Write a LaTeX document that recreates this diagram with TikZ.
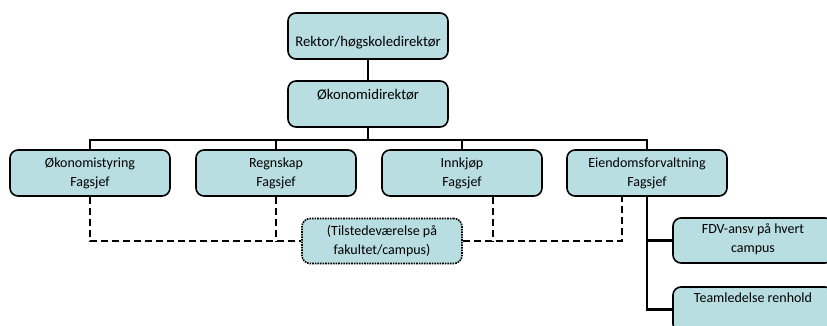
\documentclass[tikz,border=0pt]{standalone}
\usepackage{fontspec}
\setmainfont{Carlito}
\definecolor{boxfill}{RGB}{185,222,226}
\tikzset{
  orgbox/.style={draw=black, line width=1.6pt, fill=boxfill, rounded corners=8pt,
    minimum width=160pt, minimum height=46pt, inner sep=0pt},
  notebox/.style={orgbox, draw=black, densely dotted, minimum height=45pt},
  lbl/.style={font=\fontsize{14}{19}\selectfont, align=center, inner sep=0pt},
  toplbl/.style={lbl, font=\fontsize{14.7}{19}\selectfont},
  conn/.style={draw=black, line width=2.4pt},
  dashconn/.style={draw=black, line width=1.7pt, dash pattern=on 7pt off 4pt},
}
\begin{document}
\begin{tikzpicture}[x=1pt, y=-1pt]
\useasboundingbox (0,0) rectangle (827,325);
\clip (0,0) rectangle (827,325);

% top levels
\node[orgbox] (rektor) at (368,36) {};
\node[toplbl] (rektorT) at (368,43) {Rektor/høgskoledirektør};
\node[orgbox] (oko) at (368,104) {};
\node[toplbl] (okoT) at (368,95) {Økonomidirektør};

% department heads
\node[orgbox, lbl] (b1) at (90,173) {Økonomistyring\\Fagsjef};
\node[orgbox, lbl] (b2) at (276,173) {Regnskap\\Fagsjef};
\node[orgbox, lbl] (b3) at (462,173) {Innkjøp\\Fagsjef};
\node[orgbox, lbl] (b4) at (647,173) {Eiendomsforvaltning\\Fagsjef};

% presence note
\node[notebox, lbl] (mid) at (382,241) {(Tilstedeværelse på\\fakultet/campus)};

% property management units
\node[orgbox, minimum height=45pt] (fdv) at (753,240.5) {};
\node[lbl] (fdvT) at (753,239) {FDV-ansv på hvert\\campus};
\node[orgbox, minimum height=45pt] (team) at (753,309.5) {};
\node[lbl] (teamT) at (753,298) {Teamledelse renhold};

% solid reporting lines
\coordinate (bus) at (368,140);
\draw[conn] (rektor.south) -- (oko.north);
\draw[conn] (oko.south) -- (bus);
\draw[conn] (b1.north) |- (bus) -| (b4.north);
\draw[conn] (b2.north) -- (b2.north |- bus);
\draw[conn] (b3.north) -- (b3.north |- bus);
\draw[conn] (b4.south) |- (team.west);
\draw[conn] (b4.south |- fdv.west) -- (fdv.west);

% dashed links to the presence note
\draw[dashconn] (b1.south) |- (mid.west);
\draw[dashconn] (b2.south) -- (b2.south |- mid.west);
\draw[dashconn] (mid.east) -| ([xshift=-25pt]b4.south);
\draw[dashconn] ([xshift=31pt]b3.south) -- ([xshift=31pt]b3.south |- mid.east);
\end{tikzpicture}
\end{document}
